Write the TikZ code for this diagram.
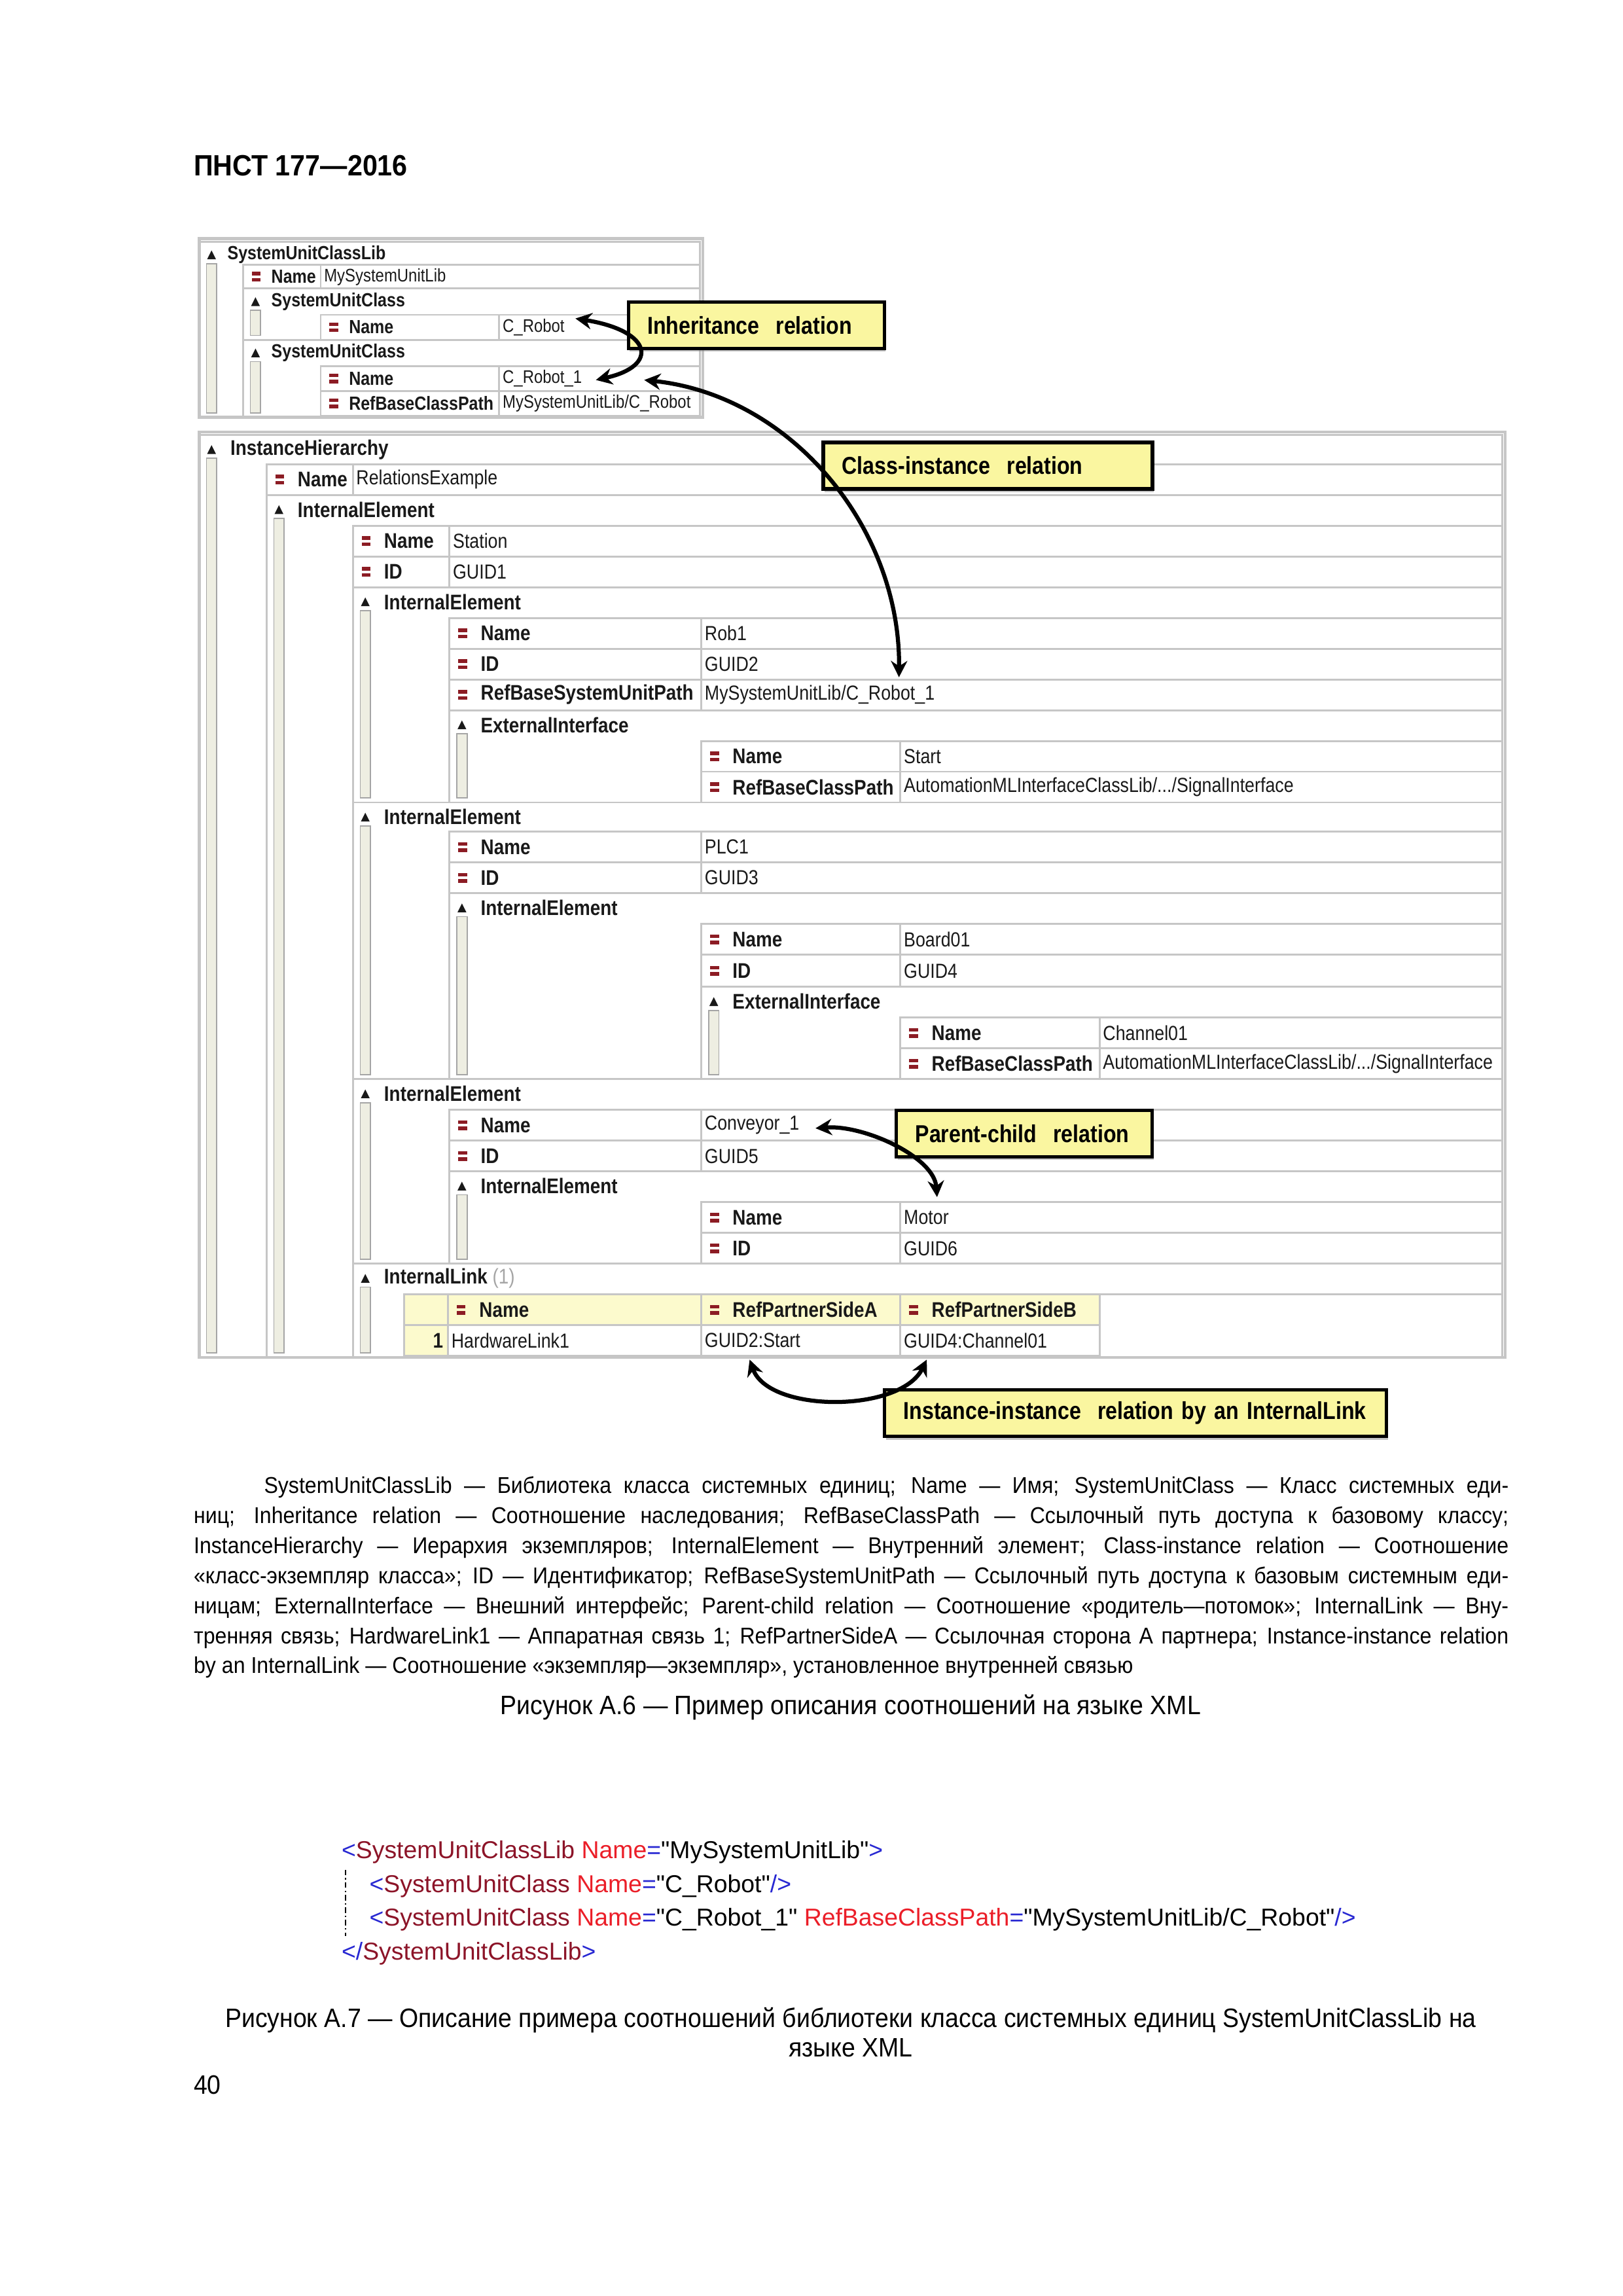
\documentclass[tikz,border=0pt]{standalone}
\usepackage{fontspec}
\setmainfont[FakeStretch=0.92]{Liberation Sans}
\newfontfamily\shotfont[FakeStretch=0.86]{Liberation Sans}
\newfontfamily\codefont{Liberation Sans}
\usepackage{xcolor}
\usetikzlibrary{positioning, arrows.meta, calc, shadows}

\definecolor{gridgray}{RGB}{198,198,198}
\definecolor{shottext}{RGB}{25,25,25}
\definecolor{iconred}{RGB}{140,28,36}
\definecolor{barfill}{RGB}{238,238,226}
\definecolor{bargray}{RGB}{165,165,165}
\definecolor{noteyellow}{RGB}{250,246,160}
\definecolor{linkyellow}{RGB}{252,250,205}
\definecolor{linkgray}{RGB}{165,165,165}
\definecolor{xmlblue}{RGB}{40,40,210}
\definecolor{xmlelem}{RGB}{140,20,40}
\definecolor{xmlattr}{RGB}{235,30,40}

\newcommand{\lblsize}{\fontsize{7.8}{9}\selectfont}
\newcommand{\valsize}{\fontsize{7.5}{9}\selectfont}
\newcommand{\panelR}{1026}
\newcommand{\hdrofs}{10}
\newcommand{\lblofs}{21}

% red "=" icon of an attribute
\newcommand{\attricon}[2]{%
  \fill[iconred] ({#1-3},{#2-3.3}) rectangle ({#1+3},{#2-0.9});
  \fill[iconred] ({#1-3},{#2+0.9}) rectangle ({#1+3},{#2+3.3});
}
% name, x0, x-divider, ytop, ybottom, label, value
\newcommand{\attrrow}[7]{%
  \draw[gridline] (#2,#4) rectangle (\panelR,#5);
  \draw[gridline] (#3,#4) -- (#3,#5);
  \attricon{#2+9}{(#4+#5)/2}
  \node[attrlbl] (#1k) at ({#2+\lblofs},{(#4+#5)/2}) {#6};
  \node[attrval] (#1) at ({#3+2},{(#4+#5)/2}) {#7};
}
% name, x, ytop, ybottom, label
\newcommand{\elemblock}[5]{%
  \draw[gridline] (#2,#3) rectangle (\panelR,#4);
  \draw[scrollbar] ({#2+5},{#3+\hdrofs+6}) rectangle ({#2+12},{#4-3});
  \fill[shottext] ({#2+5.5},{#3+\hdrofs+3}) -- ({#2+11.5},{#3+\hdrofs+3}) -- ({#2+8.5},{#3+\hdrofs-3}) -- cycle;
  \node[elemlbl] (#1) at ({#2+\lblofs},{#3+\hdrofs}) {#5};
}
\newcommand{\xmlpunct}[1]{\textcolor{xmlblue}{#1}}
\newcommand{\xmlelem}[1]{\textcolor{xmlelem}{#1}}
\newcommand{\xmlattr}[1]{\textcolor{xmlattr}{#1}}

\tikzset{
  gridline/.style={draw=gridgray, line width=0.7pt},
  panelframe/.style={draw=gridgray, line width=1.1pt},
  scrollbar/.style={fill=barfill, draw=bargray, line width=0.4pt},
  elemlbl/.style={anchor=west, inner sep=0pt, text=shottext, font=\shotfont\lblsize\bfseries},
  attrlbl/.style={anchor=west, inner sep=0pt, text=shottext, font=\shotfont\lblsize\bfseries},
  attrval/.style={anchor=west, inner sep=0pt, text=shottext, font=\shotfont\valsize},
  callout/.style={anchor=north west, draw=black, line width=1.3pt, fill=noteyellow, inner xsep=0.245cm,
    inner ysep=0pt, minimum height=0.6cm, align=left, font=\shotfont\bfseries\fontsize{9}{10}\selectfont,
    drop shadow={fill=black!45, shadow xshift=0.5pt, shadow yshift=-1.2pt}},
  relarrow/.style={{Stealth[length=6pt,width=6pt]}-{Stealth[length=6pt,width=6pt]}, line width=1.5pt},
  pagetext/.style={inner sep=0pt, font=\fontsize{9.8}{10.8}\selectfont},
  codeline/.style={anchor=west, inner sep=0pt, font=\codefont\fontsize{9}{10}\selectfont},
}

\begin{document}
\begin{tikzpicture}[x=0.018936cm, y=-0.018936cm]
  \useasboundingbox (0,0) rectangle (1108.5,1568);

  \node[pagetext, anchor=west, font=\bfseries\fontsize{10.8}{12}\selectfont] (runhead) at (132,113) {ПНСТ 177—2016};

  % upper screenshot: SystemUnitClassLib
  \renewcommand{\panelR}{478}
  \renewcommand{\lblsize}{\fontsize{7}{8}\selectfont}
  \renewcommand{\valsize}{\fontsize{6.7}{8}\selectfont}
  \renewcommand{\hdrofs}{9}
  \renewcommand{\lblofs}{19}
  \draw[panelframe] (136,163) rectangle (480,285);
  \elemblock{sucl}{136}{165}{285}{SystemUnitClassLib}
  \attrrow{suclname}{166}{219}{181}{197}{Name}{MySystemUnitLib}
  \elemblock{suca}{166}{197}{232}{SystemUnitClass}
  \attrrow{crobot}{219}{341}{215}{232}{Name}{C\_Robot}
  \elemblock{sucb}{166}{232}{285}{SystemUnitClass}
  \attrrow{crobotone}{219}{341}{250}{267}{Name}{C\_Robot\_1}
  \attrrow{crobotpath}{219}{341}{267}{284}{RefBaseClassPath}{MySystemUnitLib/C\_Robot}

  % lower screenshot: InstanceHierarchy
  \renewcommand{\panelR}{1026}
  \renewcommand{\lblsize}{\fontsize{7.8}{9}\selectfont}
  \renewcommand{\valsize}{\fontsize{7.5}{9}\selectfont}
  \renewcommand{\hdrofs}{10}
  \renewcommand{\lblofs}{21}
  \draw[panelframe] (136,295) rectangle (1028,927);
  \elemblock{ih}{136}{297}{927}{InstanceHierarchy}
  \attrrow{ihname}{182}{241}{317}{338}{Name}{RelationsExample}
  \elemblock{station}{182}{338}{927}{InternalElement}
  \attrrow{stname}{241}{307}{359}{380}{Name}{Station}
  \attrrow{stid}{241}{307}{380}{401}{ID}{GUID1}
  \elemblock{rob}{241}{401}{548}{InternalElement}
  \attrrow{robname}{307}{479}{422}{443}{Name}{Rob1}
  \attrrow{robid}{307}{479}{443}{464}{ID}{GUID2}
  \attrrow{robpath}{307}{479}{464}{485}{RefBaseSystemUnitPath}{MySystemUnitLib/C\_Robot\_1}
  \elemblock{robei}{307}{485}{548}{ExternalInterface}
  \attrrow{startname}{479}{615}{506}{527}{Name}{Start}
  \attrrow{startpath}{479}{615}{527}{548}{RefBaseClassPath}{AutomationMLInterfaceClassLib/.../SignalInterface}
  \elemblock{plc}{241}{548}{737}{InternalElement}
  \attrrow{plcname}{307}{479}{568}{589}{Name}{PLC1}
  \attrrow{plcid}{307}{479}{589}{610}{ID}{GUID3}
  \elemblock{board}{307}{610}{737}{InternalElement}
  \attrrow{boardname}{479}{615}{631}{652}{Name}{Board01}
  \attrrow{boardid}{479}{615}{652}{674}{ID}{GUID4}
  \elemblock{boardei}{479}{674}{737}{ExternalInterface}
  \attrrow{chname}{615}{751}{695}{716}{Name}{Channel01}
  \attrrow{chpath}{615}{751}{716}{737}{RefBaseClassPath}{AutomationMLInterfaceClassLib/.../SignalInterface}
  \elemblock{conv}{241}{737}{863}{InternalElement}
  \attrrow{convname}{307}{479}{758}{779}{Name}{Conveyor\_1}
  \attrrow{convid}{307}{479}{779}{800}{ID}{GUID5}
  \elemblock{motor}{307}{800}{863}{InternalElement}
  \attrrow{motorname}{479}{615}{821}{842}{Name}{Motor}
  \attrrow{motorid}{479}{615}{842}{863}{ID}{GUID6}
  \elemblock{ilink}{241}{863}{927}{InternalLink \textcolor{linkgray}{\mdseries(1)}}

  % InternalLink table
  \fill[linkyellow] (276,884) rectangle (751,905);
  \fill[linkyellow] (276,905) rectangle (306,926);
  \draw[gridline] (276,884) -- (\panelR,884);
  \draw[gridline] (276,884) rectangle (751,926);
  \draw[gridline] (276,905) -- (751,905);
  \foreach \cx in {306,479,615} { \draw[gridline] (\cx,884) -- (\cx,926); }
  \attricon{315}{894.5}
  \node[attrlbl] (ilhname) at (327,894.5) {Name};
  \attricon{488}{894.5}
  \node[attrlbl] (ilhsidea) at (500,894.5) {RefPartnerSideA};
  \attricon{624}{894.5}
  \node[attrlbl] (ilhsideb) at (636,894.5) {RefPartnerSideB};
  \node[attrlbl, anchor=east] (ilnum) at (303,915.5) {1};
  \node[attrval] (ilname) at (308,915.5) {HardwareLink1};
  \node[attrval] (gsa) at (481,915.5) {GUID2:Start};
  \node[attrval] (gsb) at (617,915.5) {GUID4:Channel01};

  % callouts
  \node[callout, text width=2.82cm] (inhnote) at (428,205) {Inheritance\ \ relation};
  \node[callout, text width=3.77cm] (cinote) at (561,301) {Class-instance\ \ relation};
  \node[callout, text width=2.82cm] (pcnote) at (611,757) {Parent-child\ \ relation};
  \node[callout, text width=6.0cm] (iinote) at (603,948) {Instance-instance\ \ relation by an InternalLink};

  % relation arrows
  \draw[relarrow] ($(crobot.west)+(50,-6)$) .. controls (446,226) and (450,250) .. ($(crobotone.west)+(64,1)$);
  \draw[relarrow] ($(crobotone.west)+(97,1)$) .. controls (540,270) and (615,360) .. ($(robpath.west)+(133,-12)$);
  \draw[relarrow] ($(convname.west)+(76,2)$) .. controls (590,768) and (638,790) .. ($(motorname.west)+(23,-14)$);
  \draw[relarrow] ($(gsa.west)+(31,13)$) .. controls (525,965) and (615,965) .. ($(gsb.west)+(16,13)$);

  % legend under the figure
  \node[pagetext, anchor=north west, font=\fontsize{8.4}{11.05}\selectfont] (legend) at (132,1008) {\vbox{\hsize=17.005cm
\hbox to\hsize{\kern0.909cm SystemUnitClassLib — Библиотека класса системных единиц; Name — Имя; SystemUnitClass — Класс системных еди-}
\hbox to\hsize{ниц; Inheritance relation — Соотношение наследования; RefBaseClassPath — Ссылочный путь доступа к базовому классу;}
\hbox to\hsize{InstanceHierarchy — Иерархия экземпляров; InternalElement — Внутренний элемент; Class-instance relation — Соотношение}
\hbox to\hsize{«класс-экземпляр класса»; ID — Идентификатор; RefBaseSystemUnitPath — Ссылочный путь доступа к базовым системным еди-}
\hbox to\hsize{ницам; ExternalInterface — Внешний интерфейс; Parent-child relation — Соотношение «родитель—потомок»; InternalLink — Вну-}
\hbox to\hsize{тренняя связь; HardwareLink1 — Аппаратная связь 1; RefPartnerSideA — Ссылочная сторона А партнера; Instance-instance relation}
\hbox{by an InternalLink — Соотношение «экземпляр—экземпляр», установленное внутренней связью}}};
  \node[pagetext] (figsix) at (581,1166) {Рисунок А.6 — Пример описания соотношений на языке XML};

  % XML listing
  \node[codeline] (xmlone) at (233,1265) {\xmlpunct{<}\xmlelem{SystemUnitClassLib} \xmlattr{Name}\xmlpunct{=}"MySystemUnitLib"\xmlpunct{>}};
  \node[codeline] (xmltwo) at (252,1288) {\xmlpunct{<}\xmlelem{SystemUnitClass} \xmlattr{Name}\xmlpunct{=}"C\_Robot"\xmlpunct{/>}};
  \node[codeline] (xmlthree) at (252,1311) {\xmlpunct{<}\xmlelem{SystemUnitClass} \xmlattr{Name}\xmlpunct{=}"C\_Robot\_1" \xmlattr{RefBaseClassPath}\xmlpunct{=}"MySystemUnitLib/C\_Robot"\xmlpunct{/>}};
  \node[codeline] (xmlfour) at (233,1334) {\xmlpunct{</}\xmlelem{SystemUnitClassLib}\xmlpunct{>}};
  \draw[line width=0.5pt, dash pattern=on 2pt off 1pt on 0.6pt off 1pt] (236,1277) -- (236,1322);

  \node[pagetext, align=center] (figseven) at (581,1388) {Рисунок А.7 — Описание примера соотношений библиотеки класса системных единиц SystemUnitClassLib на\\ языке XML};
  \node[pagetext, anchor=west] (pagenum) at (132,1424) {40};
\end{tikzpicture}
\end{document}
